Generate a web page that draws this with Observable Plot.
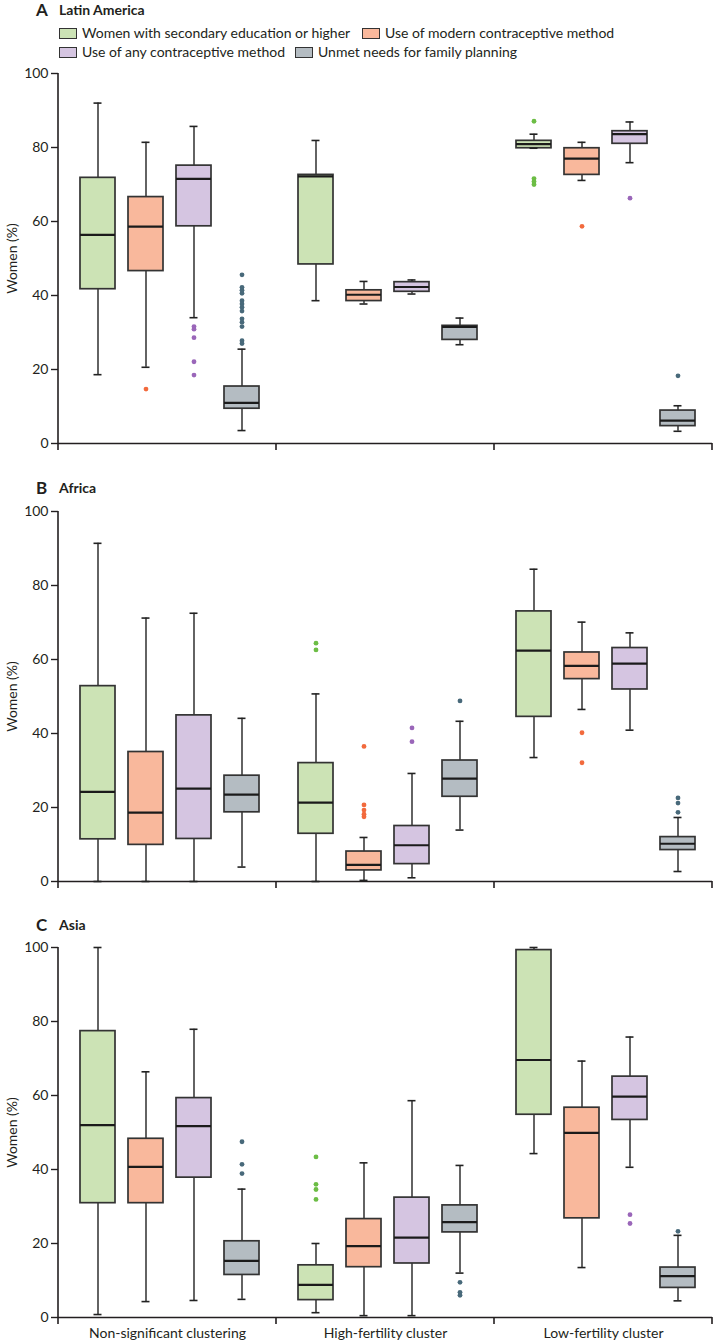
<!DOCTYPE html>
<html>
<head>
<meta charset="utf-8">
<script src="https://cdn.jsdelivr.net/npm/d3@7"></script>
<script src="https://cdn.jsdelivr.net/npm/@observablehq/plot@0.6"></script>
<style>
  body { margin: 0; background: #fff; font-family: Lato, "Open Sans", sans-serif; color: #231f20; }
  #wrap { position: relative; width: 713px; height: 1344px; overflow: hidden; background: #fff; }
  .title { position: absolute; left: 0; height: 20px; width: 713px; }
  .title .l { position: absolute; left: 36px; top: 0; line-height: 20px; font-weight: 700; font-size: 17px; }
  .title .t { position: absolute; left: 59px; top: 0; line-height: 20px; font-weight: 700; font-size: 14px; }
  .item { position: absolute; height: 18px; line-height: 18px; font-size: 14px; white-space: nowrap; display: flex; align-items: center; }
  .sw { width: 16px; height: 9px; border: 1.6px solid #333; margin-right: 5px; box-sizing: content-box; }
  .panel { position: absolute; left: 0; }
</style>
</head>
<body>
<div id="wrap"></div>
<script>
// ---------- data ----------
const clusters = ["Non-significant clustering", "High-fertility cluster", "Low-fertility cluster"];
const variables = [
  "Women with secondary education or higher",
  "Use of modern contraceptive method",
  "Use of any contraceptive method",
  "Unmet needs for family planning"
];
const yTicks = [0, 20, 40, 60, 80, 100];
const regions = ["Latin America", "Africa", "Asia"];
const regionLetters = ["A", "B", "C"];

// box statistics per cluster, per variable: [lower whisker, Q1, median, Q3, upper whisker]
const latinStats = [
  [[18.6, 41.7, 56.4, 71.8, 92.0], [20.6, 46.6, 58.6, 66.6, 81.4], [34.0, 58.7, 71.5, 75.1, 85.7], [3.5, 9.4, 11.0, 15.4, 25.5]],
  [[38.6, 48.4, 72.2, 72.6, 81.9], [37.7, 38.5, 40.2, 41.4, 43.8], [40.4, 41.0, 42.3, 43.6, 44.2], [26.7, 28.0, 31.5, 31.8, 33.9]],
  [[79.8, 79.8, 80.9, 81.8, 83.6], [71.1, 72.6, 77.0, 79.8, 81.4], [75.9, 81.0, 83.6, 84.4, 86.9], [3.3, 4.7, 6.2, 8.9, 10.2]]
];
const latinOutliers = [
  [[], [14.7], [31.6, 30.9, 28.6, 22.1, 18.5], [45.6, 42.2, 41.4, 40.6, 38.6, 37.7, 36.8, 35.8, 33.7, 32.8, 31.6, 27.8, 27.0]],
  [[], [], [], []],
  [[87.1, 71.6, 70.8, 70.0], [58.7], [66.3], [18.3]]
];
const africaStats = [
  [[0, 11.4, 24.2, 52.8, 91.4], [0, 9.9, 18.6, 35.0, 71.2], [0, 11.5, 25.1, 44.9, 72.5], [3.9, 18.7, 23.5, 28.6, 44.1]],
  [[0, 12.9, 21.3, 32.0, 50.7], [0.3, 3.0, 4.5, 8.1, 11.9], [1.0, 4.7, 9.8, 15.0, 29.2], [13.9, 22.9, 27.8, 32.7, 43.3]],
  [[33.5, 44.5, 62.4, 73.0, 84.4], [46.5, 54.7, 58.3, 61.9, 70.1], [40.9, 51.9, 58.9, 63.1, 67.2], [2.7, 8.5, 10.2, 12.0, 17.3]]
];
const africaOutliers = [
  [[], [], [], []],
  [[64.4, 62.6], [36.5, 20.7, 19.3, 18.2, 17.5], [41.5, 37.8], [48.8]],
  [[], [40.2, 32.1], [], [22.6, 21.2, 18.7]]
];
const asiaStats = [
  [[0.8, 30.9, 52.0, 77.4, 100], [4.3, 30.9, 40.7, 48.3, 66.4], [4.6, 37.8, 51.7, 59.3, 77.9], [4.9, 11.5, 15.3, 20.6, 34.7]],
  [[1.3, 4.7, 8.8, 14.1, 20.0], [0.5, 13.6, 19.3, 26.6, 41.8], [0.5, 14.6, 21.6, 32.4, 58.6], [12.0, 23.0, 25.8, 30.3, 41.1]],
  [[44.3, 54.8, 69.6, 99.3, 100], [13.5, 26.8, 49.9, 56.7, 69.3], [40.6, 53.4, 59.7, 65.1, 75.8], [4.5, 8.0, 11.2, 13.5, 22.2]]
];
const asiaOutliers = [
  [[], [], [], [47.5, 41.4, 38.9]],
  [[43.4, 36.0, 34.6, 31.9], [], [], [9.5, 6.8, 6.0]],
  [[], [], [27.8, 25.4], [23.3]]
];

// ---------- styles ----------
const boxFills = ["#cce3b5", "#f9b89c", "#d5c5e1", "#b4bcc2"];
const dotFills = ["#6cbd45", "#f26a3d", "#9a66b9", "#48697a"];
const ink = "#231f20";

// ---------- layout ----------
const wrap = document.getElementById("wrap");
const titleTops = [0, 478, 915];
const panelTops = [60, 498, 934];

function addTitle(i) {
  const d = document.createElement("div");
  d.className = "title";
  d.style.top = titleTops[i] + "px";
  d.innerHTML = `<span class="l">${regionLetters[i]}</span><span class="t">${regions[i]}</span>`;
  wrap.appendChild(d);
}

function addLegend() {
  const pos = [[59, 24], [362, 24], [59, 43], [295, 43]];
  variables.forEach((v, k) => {
    const it = document.createElement("div");
    it.className = "item";
    it.style.left = pos[k][0] + "px";
    it.style.top = pos[k][1] + "px";
    it.innerHTML = `<span class="sw" style="background:${boxFills[k]}"></span><span>${v}</span>`;
    wrap.appendChild(it);
  });
}

function buildPanel(stats, outliers, showLabels) {
  const boxes = [];
  stats.forEach((row, i) => row.forEach((s, j) => boxes.push({
    cluster: clusters[i], variable: variables[j], low: s[0], q1: s[1], med: s[2], q3: s[3], high: s[4]
  })));
  const dots = [];
  outliers.forEach((row, i) => row.forEach((vals, j) => vals.forEach(v => dots.push({
    cluster: clusters[i], variable: variables[j], value: v
  }))));
  const mb = showLabels ? 26 : 10;
  const fxOpts = {domain: clusters, padding: 0};
  if (!showLabels) fxOpts.axis = null;
  const chart = Plot.plot({
    width: 713,
    height: 13 + 370 + mb,
    marginTop: 13,
    marginBottom: mb,
    marginLeft: 58,
    marginRight: 1,
    style: {fontFamily: "Lato, 'Open Sans', sans-serif", fontSize: "14px", color: ink, background: "transparent", overflow: "visible"},
    fx: fxOpts,
    x: {domain: variables, paddingInner: 0.275, paddingOuter: 0.39, align: 0.57, axis: null},
    y: {domain: [0, 100]},
    color: {domain: variables, range: boxFills},
    marks: [
      Plot.axisY({ticks: yTicks, tickSize: 7, tickPadding: 3, label: "Women (%)", labelAnchor: "center", labelArrow: "none", labelOffset: 51, fontSize: 14, strokeWidth: 1.4}),
      showLabels ? Plot.axisFx({anchor: "bottom", tickSize: 0, tickPadding: 11, label: null, fontSize: 14}) : null,
      Plot.ruleY([0], {stroke: ink, strokeWidth: 1.6}),
      Plot.ruleX(boxes, {fx: "cluster", x: "variable", y1: "low", y2: "high", stroke: "#222", strokeWidth: 1.4}),
      Plot.barY(boxes, {fx: "cluster", x: "variable", y1: "q1", y2: "q3", fill: "variable", stroke: "#333", strokeWidth: 1.7}),
      Plot.tickY(boxes, {fx: "cluster", x: "variable", y: "med", stroke: "#1b1b1b", strokeWidth: 2.2}),
      Plot.tickY(boxes, {fx: "cluster", x: "variable", y: "high", inset: 13.5, stroke: "#222", strokeWidth: 1.6}),
      Plot.tickY(boxes, {fx: "cluster", x: "variable", y: "low", inset: 13.5, stroke: "#222", strokeWidth: 1.6}),
      ...variables.map((v, j) => Plot.dot(dots.filter(d => d.variable === v), {fx: "cluster", x: "variable", y: "value", r: 2.4, fill: dotFills[j], stroke: "none"}))
    ]
  });
  // axis line on the left and boundary ticks below, placed with the chart's own scales
  const fx = chart.scale("fx");
  const y = chart.scale("y");
  const svg = d3.select(chart);
  const x0 = fx.apply(clusters[0]);
  svg.append("line").attr("x1", x0).attr("x2", x0).attr("y1", y.apply(0)).attr("y2", y.apply(100))
    .attr("stroke", ink).attr("stroke-width", 1.6);
  const bounds = clusters.map(c => fx.apply(c)).concat([fx.apply(clusters[clusters.length - 1]) + fx.bandwidth]);
  bounds.forEach(b => {
    svg.append("line").attr("x1", b).attr("x2", b).attr("y1", y.apply(0)).attr("y2", y.apply(0) + 7)
      .attr("stroke", ink).attr("stroke-width", 1.6);
  });
  return chart;
}

const allStats = [latinStats, africaStats, asiaStats];
const allOutliers = [latinOutliers, africaOutliers, asiaOutliers];
for (let i = 0; i < 3; i++) {
  addTitle(i);
  if (i === 0) addLegend();
  const c = buildPanel(allStats[i], allOutliers[i], i === 2);
  c.classList.add("panel");
  c.style.position = "absolute";
  c.style.top = panelTops[i] + "px";
  c.style.left = "0px";
  wrap.appendChild(c);
}
</script>
</body>
</html>
